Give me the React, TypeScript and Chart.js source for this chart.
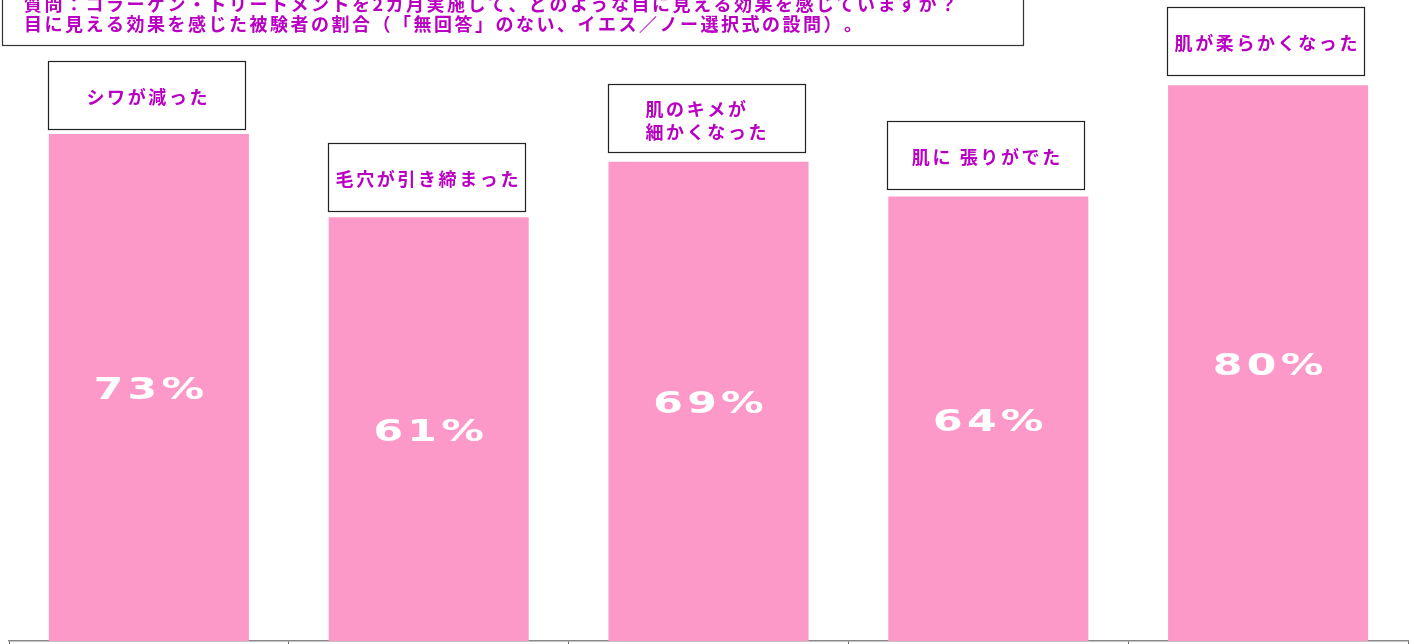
import React, { useEffect, useRef } from "react";
import { Chart, registerables } from "chart.js";

Chart.register(...registerables);

const categories = ["シワが減った", "毛穴が引き締まった", "肌のキメが|細かくなった", "肌に 張りがでた", "肌が柔らかくなった"];
const values = [73, 61, 69, 64, 80];
const valueLabels = ["73%", "61%", "69%", "64%", "80%"];
const titleLines = [
  "質問：コラーゲン・トリートメントを2カ月実施して、どのような目に見える効果を感じていますか？",
  "目に見える効果を感じた被験者の割合（「無回答」のない、イエス／ノー選択式の設問）。",
];

const MAGENTA = "#b900c2";
const PINK = "#fd99c9";
const CJK = '"Noto Sans CJK JP", "Noto Sans", sans-serif';

function drawSpaced(ctx: CanvasRenderingContext2D, text: string, x: number, y: number, spacing: number, align: "left" | "center") {
  const chars = Array.from(text);
  const widths = chars.map((c) => ctx.measureText(c).width);
  const total = widths.reduce((a, b) => a + b, 0) + spacing * (chars.length - 1);
  let cx = align === "center" ? x - total / 2 : x;
  ctx.textAlign = "left";
  chars.forEach((c, i) => {
    ctx.fillText(c, cx, y);
    cx += widths[i] + spacing;
  });
}

const labelGaps = [5, 6, 10, 7, 10];

const overlayPlugin = {
  id: "overlay",
  afterDatasetsDraw(chart: any) {
    const ctx: CanvasRenderingContext2D = chart.ctx;
    const meta = chart.getDatasetMeta(0);
    ctx.save();
    meta.data.forEach((bar: any, i: number) => {
      // value label inside bar
      const midY = (bar.y + bar.base) / 2;
      ctx.save();
      ctx.translate(bar.x, midY);
      ctx.scale(1.42, 1);
      ctx.fillStyle = "#ffffff";
      ctx.font = 'bold 30px "DejaVu Sans", sans-serif';
      ctx.textBaseline = "middle";
      drawSpaced(ctx, valueLabels[i], 0, 4, 3, "center");
      ctx.restore();

      // category box above bar
      const bw = 197;
      const bh = 68;
      const left = Math.round(bar.x - 101) + 0.5;
      const bottom = Math.round(bar.y - labelGaps[i]) + 0.5;
      const top = bottom - bh;
      ctx.fillStyle = "#ffffff";
      ctx.fillRect(left, top, bw, bh);
      ctx.strokeStyle = "#222222";
      ctx.lineWidth = 1.2;
      ctx.strokeRect(left, top, bw, bh);
      ctx.fillStyle = MAGENTA;
      ctx.font = `bold 18px ${CJK}`;
      ctx.textBaseline = "middle";
      const lines = categories[i].split("|");
      if (lines.length === 1) {
        drawSpaced(ctx, lines[0], left + bw / 2, top + bh / 2 + 2, 2.6, "center");
      } else {
        lines.forEach((ln, j) => {
          drawSpaced(ctx, ln, left + 37, top + 25 + j * 23, 2.6, "left");
        });
      }
    });

    // title box
    ctx.fillStyle = "#ffffff";
    ctx.fillRect(2.5, -20, 1021, 65.5);
    ctx.strokeStyle = "#333333";
    ctx.lineWidth = 1.2;
    ctx.strokeRect(2.5, -20, 1021, 65.5);
    ctx.fillStyle = MAGENTA;
    ctx.font = `bold 18px ${CJK}`;
    ctx.textBaseline = "middle";
    drawSpaced(ctx, titleLines[0], 24, 4, 2.5, "left");
    drawSpaced(ctx, titleLines[1], 24, 24, 2.5, "left");
    ctx.restore();
  },
};

export default function App() {
  const ref = useRef<HTMLCanvasElement | null>(null);
  useEffect(() => {
    if (!ref.current) return;
    const chart = new Chart(ref.current, {
      type: "bar",
      data: {
        labels: categories,
        datasets: [
          {
            data: values,
            backgroundColor: PINK,
            borderWidth: 0,
            barPercentage: 0.715,
            categoryPercentage: 1,
          },
        ],
      },
      options: {
        responsive: false,
        maintainAspectRatio: false,
        animation: false,
        layout: { padding: { left: 9, right: 6, top: 2, bottom: 0 } },
        plugins: { legend: { display: false }, tooltip: { enabled: false }, title: { display: false } },
        scales: {
          x: {
            grid: { offset: true, drawOnChartArea: false, tickLength: 3, color: "#666666", lineWidth: 1 },
            border: { color: "#888888", width: 1.5 },
            ticks: { display: false },
          },
          y: { display: false, min: 0, max: 92 },
        },
      },
      plugins: [overlayPlugin],
    });
    return () => chart.destroy();
  }, []);
  return (
    <div style={{ position: "fixed", left: 0, top: 0, width: 1414, height: 644, background: "#ffffff" }}>
      <canvas ref={ref} width={1414} height={644} style={{ width: 1414, height: 644, display: "block" }} />
    </div>
  );
}
